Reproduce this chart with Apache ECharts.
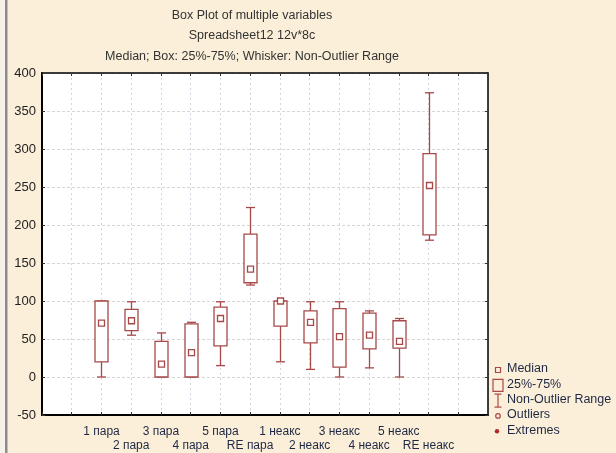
<!DOCTYPE html>
<html>
<head>
<meta charset="utf-8">
<script src="https://cdn.jsdelivr.net/npm/echarts/dist/echarts.min.js"></script>
<style>
  html, body { margin: 0; padding: 0; background: #fcefd9; }
  #chart { width: 616px; height: 453px; }
</style>
</head>
<body>
<div id="chart"></div>
<script>
// Variables shown along the x axis
const categories = ['1 пара', '2 пара', '3 пара', '4 пара', '5 пара', 'RE пара',
                    '1 неакс', '2 неакс', '3 неакс', '4 неакс', '5 неакс', 'RE неакс'];

// Five-number summaries per variable (non-outlier min, 25%, median, 75%, non-outlier max)
const minValues    = [0,   55,  0,  0, 15, 121,  20, 10,  0, 12,  0, 180];
const q1Values     = [20,  61,  0,  0, 41, 124,  67, 45, 13, 37, 38, 187];
const medianValues = [71,  74, 17, 32, 77, 142, 100, 72, 53, 55, 47, 252];
const q3Values     = [100, 89, 47, 70, 92, 188, 100, 87, 90, 84, 74, 294];
const maxValues    = [100, 99, 58, 72, 99, 223, 100, 99, 99, 87, 77, 374];

// Value axis ticks
const yMin = -50, yMax = 400, yStep = 50;

const titleLines = [
  'Box Plot of multiple variables',
  'Spreadsheet12 12v*8c',
  'Median; Box: 25%-75%; Whisker: Non-Outlier Range'
];
const legendLabels = ['Median', '25%-75%', 'Non-Outlier Range', 'Outliers', 'Extremes'];

const boxColor = '#a84848';
const labelColor = '#1e2844';

const boxRows = categories.map((c, i) =>
  [i, minValues[i], q1Values[i], medianValues[i], q3Values[i], maxValues[i]]);

function renderBox(params, api) {
  const x = api.value(0);
  const pMin = api.coord([x, api.value(1)]);
  const pQ1 = api.coord([x, api.value(2)]);
  const pMed = api.coord([x, api.value(3)]);
  const pQ3 = api.coord([x, api.value(4)]);
  const pMax = api.coord([x, api.value(5)]);
  const cx = Math.round(pMin[0]) + 0.5;
  const half = 6.5, cap = 4.5, m = 3;
  const line = { stroke: boxColor, lineWidth: 1.3, fill: null };
  return {
    type: 'group',
    children: [
      { type: 'line', shape: { x1: cx, y1: pMax[1], x2: cx, y2: pQ3[1] }, style: line },
      { type: 'line', shape: { x1: cx, y1: pQ1[1], x2: cx, y2: pMin[1] }, style: line },
      { type: 'line', shape: { x1: cx - cap, y1: pMax[1], x2: cx + cap, y2: pMax[1] }, style: line },
      { type: 'line', shape: { x1: cx - cap, y1: pMin[1], x2: cx + cap, y2: pMin[1] }, style: line },
      { type: 'rect', shape: { x: cx - half, y: pQ3[1], width: half * 2, height: pQ1[1] - pQ3[1] },
        style: { stroke: boxColor, lineWidth: 1.3, fill: '#fff' } },
      { type: 'rect', shape: { x: cx - m, y: pMed[1] - m, width: m * 2, height: m * 2 },
        style: { stroke: boxColor, lineWidth: 1.3, fill: '#fff' } }
    ]
  };
}

// Legend drawn beside the plot
const legendX = 498, legendTextX = 507, legendY0 = 370, legendStep = 15.3;
const legendFont = '12.5px Arial, "Liberation Sans", sans-serif';
const legendGraphics = [];
legendLabels.forEach((t, i) => {
  legendGraphics.push({
    type: 'text', left: legendTextX, top: legendY0 + i * legendStep - 7.5,
    style: { text: t, font: legendFont, fill: labelColor }
  });
});
const ly = i => legendY0 + i * legendStep;
legendGraphics.push(
  { type: 'rect', shape: { x: legendX - 2.5, y: ly(0) - 2.5, width: 5, height: 5 },
    style: { stroke: boxColor, lineWidth: 1.2, fill: 'none' } },
  { type: 'rect', shape: { x: legendX - 5, y: ly(1) - 6, width: 10, height: 12 },
    style: { stroke: boxColor, lineWidth: 1.2, fill: 'none' } },
  { type: 'polyline', shape: { points: [[legendX - 3.5, ly(2) - 6.5], [legendX + 3.5, ly(2) - 6.5]] },
    style: { stroke: boxColor, lineWidth: 1.2 } },
  { type: 'polyline', shape: { points: [[legendX - 3.5, ly(2) + 6.5], [legendX + 3.5, ly(2) + 6.5]] },
    style: { stroke: boxColor, lineWidth: 1.2 } },
  { type: 'polyline', shape: { points: [[legendX, ly(2) - 6.5], [legendX, ly(2) + 6.5]] },
    style: { stroke: boxColor, lineWidth: 1.2 } },
  { type: 'circle', shape: { cx: legendX, cy: ly(3), r: 2.3 },
    style: { stroke: boxColor, lineWidth: 1.2, fill: 'none' } },
  { type: 'circle', shape: { cx: legendX - 1, cy: ly(4), r: 2.2 },
    style: { fill: '#b02a2a' } }
);

// Left edge strip of the window frame
const edgeGraphics = [
  { type: 'rect', shape: { x: 0, y: 0, width: 5, height: 453 }, style: { fill: '#f6f2ea' } },
  { type: 'rect', shape: { x: 5, y: 0, width: 2.5, height: 453 }, style: { fill: '#8c8c8c' } }
];

const titleGraphics = titleLines.map((t, i) => ({
  type: 'text', x: 252, y: [16, 36, 57][i],
  style: { text: t, font: '12.5px Arial, "Liberation Sans", sans-serif', fill: '#333',
           textAlign: 'center', textVerticalAlign: 'middle' }
}));

const chart = echarts.init(document.getElementById('chart'), null, { renderer: 'canvas' });

const fontFamily = 'Arial, "Liberation Sans", sans-serif';

chart.setOption({
  backgroundColor: '#fcefd9',
  animation: false,
  grid: { left: 42, right: 128, top: 73, bottom: 35, show: true, backgroundColor: '#fff', borderWidth: 0 },
  xAxis: [{
    type: 'value', min: -2, max: 13, interval: 1,
    axisLine: { show: true, onZero: false, lineStyle: { color: '#000', width: 2 } },
    axisTick: { show: true, inside: true, length: 3, lineStyle: { color: '#333' } },
    axisLabel: {
      margin: 9, fontSize: 12, lineHeight: 14.5, fontFamily, color: labelColor,
      formatter: v => {
        const i = Math.round(v);
        if (i < 0 || i >= categories.length) return '';
        return i % 2 === 0 ? categories[i] : '\n' + categories[i];
      }
    },
    splitLine: { show: true, lineStyle: { color: '#cdd7e2', type: [2, 3], width: 1 } }
  }, {
    type: 'value', position: 'top', min: -2, max: 13, interval: 1,
    axisLine: { show: true, onZero: false, lineStyle: { color: '#000', width: 1.5 } },
    axisTick: { show: true, inside: true, length: 3, lineStyle: { color: '#333' } },
    axisLabel: { show: false }, splitLine: { show: false }
  }],
  yAxis: [{
    type: 'value', min: yMin, max: yMax, interval: yStep,
    axisLine: { show: true, onZero: false, lineStyle: { color: '#000', width: 2 } },
    axisTick: { show: true, inside: true, length: 3, lineStyle: { color: '#333' } },
    axisLabel: { margin: 6, fontSize: 13, fontFamily, color: '#222' },
    splitLine: { show: true, lineStyle: { color: '#d6d6d6', type: [3, 2], width: 1 } }
  }, {
    type: 'value', position: 'right', min: yMin, max: yMax, interval: yStep,
    axisLine: { show: true, onZero: false, lineStyle: { color: '#000', width: 1.5 } },
    axisTick: { show: true, inside: true, length: 3, lineStyle: { color: '#333' } },
    axisLabel: { show: false }, splitLine: { show: false }
  }],
  series: [{
    type: 'custom',
    xAxisIndex: 0, yAxisIndex: 0,
    renderItem: renderBox,
    encode: { x: 0, y: [1, 2, 3, 4, 5] },
    data: boxRows,
    z: 5
  }],
  graphic: [].concat(edgeGraphics, titleGraphics, legendGraphics)
});
</script>
</body>
</html>
